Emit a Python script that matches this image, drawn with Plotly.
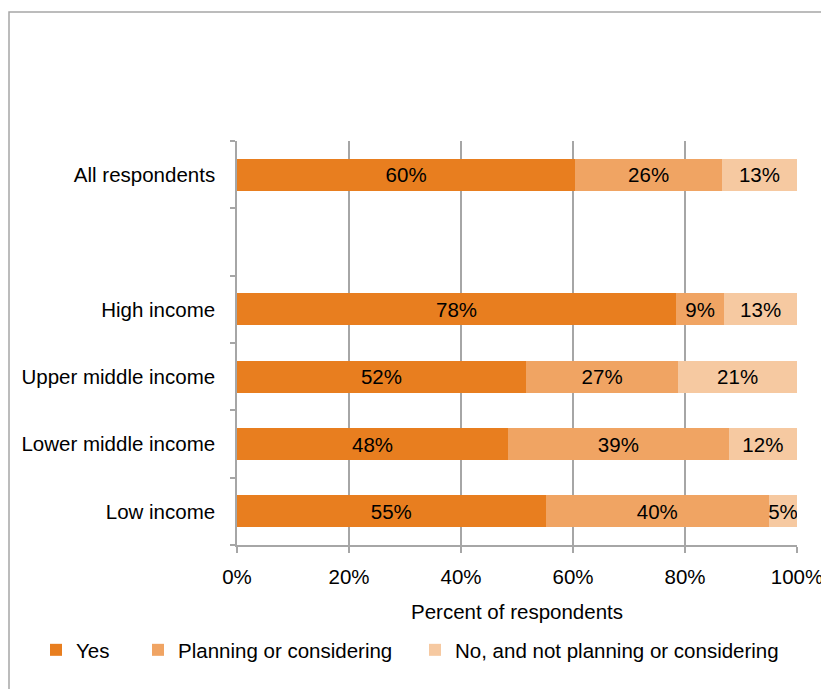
import plotly.graph_objects as go

# Categories, bottom to top (blank row separates the summary from income groups)
categories = ["Low income", "Lower middle income", "Upper middle income",
              "High income", " ", "All respondents"]

yes_vals = [55.1, 48.4, 51.6, 78.4, None, 60.4]
planning_vals = [39.9, 39.4, 27.2, 8.6, None, 26.2]
no_vals = [5.0, 12.2, 21.2, 13.0, None, 13.4]

series_names = ["Yes", "Planning or considering", "No, and not planning or considering"]
series_colors = ["#E87E1F", "#F0A463", "#F6C9A1"]
legend_ids = ["legend", "legend2", "legend3"]

x_ticks = [0, 20, 40, 60, 80, 100]
x_tick_labels = ["0%", "20%", "40%", "60%", "80%", "100%"]

FONT = "Liberation Sans, Arial, sans-serif"
FS = 20.5

# The page body has an 8px margin, so the figure is drawn 8px in from the corner.
W, H = 821, 681

fig = go.Figure()
for name, vals, color, lg in zip(series_names, [yes_vals, planning_vals, no_vals],
                                 series_colors, legend_ids):
    fig.add_trace(go.Bar(
        y=categories, x=vals, name=name, orientation="h", legend=lg,
        marker=dict(color=color, line=dict(width=0)),
        texttemplate="%{x:.0f}%", textposition="inside", textangle=0,
        insidetextanchor="middle",
        textfont=dict(color="black", size=FS, family=FONT),
        hoverinfo="skip",
    ))

legend_y = 1 - 642 / H
legend_common = dict(orientation="h", xref="container", yref="container",
                     xanchor="left", y=legend_y, yanchor="middle",
                     font=dict(size=FS, family=FONT), itemwidth=30,
                     bgcolor="rgba(0,0,0,0)")

fig.update_layout(
    barmode="stack",
    bargap=0.52,
    width=W, height=H,
    margin=dict(l=229, r=32, t=133, b=144, autoexpand=False),
    paper_bgcolor="white", plot_bgcolor="white",
    font=dict(family=FONT, size=FS, color="black"),
    uniformtext=dict(minsize=FS, mode="show"),
    showlegend=True,
    legend=dict(x=28 / W, **legend_common),
    legend2=dict(x=130 / W, **legend_common),
    legend3=dict(x=407 / W, **legend_common),
    xaxis=dict(range=[0, 100], tickvals=x_ticks, ticktext=x_tick_labels,
               showgrid=True, gridcolor="#A6A6A6", gridwidth=1.5,
               showline=True, linecolor="#A6A6A6", linewidth=1.5,
               ticks="outside", ticklen=6, tickcolor="#A6A6A6", tickwidth=1.5,
               ticklabelstandoff=7,
               zeroline=False, fixedrange=True,
               title=dict(text="Percent of respondents", standoff=17,
                          font=dict(size=FS, family=FONT)),
               tickfont=dict(size=FS, family=FONT)),
    yaxis=dict(type="category", categoryorder="array", categoryarray=categories,
               range=[-0.5, 5.5], tickson="boundaries",
               showgrid=False, showline=True, linecolor="#A6A6A6", linewidth=1.5,
               ticks="outside", ticklen=5, tickcolor="#A6A6A6", tickwidth=1.5,
               ticklabelstandoff=16,
               tickfont=dict(size=FS, family=FONT), fixedrange=True),
)

# Outer chart border (extends past the right and bottom edges of the picture)
fig.add_shape(type="rect", xref="paper", yref="paper",
              x0=(1 - 229) / 560, x1=1.3, y0=-0.6, y1=(537 - 4) / 404,
              line=dict(color="#A6A6A6", width=1.5), fillcolor="rgba(0,0,0,0)",
              layer="below")

fig.write_html("out.html")
